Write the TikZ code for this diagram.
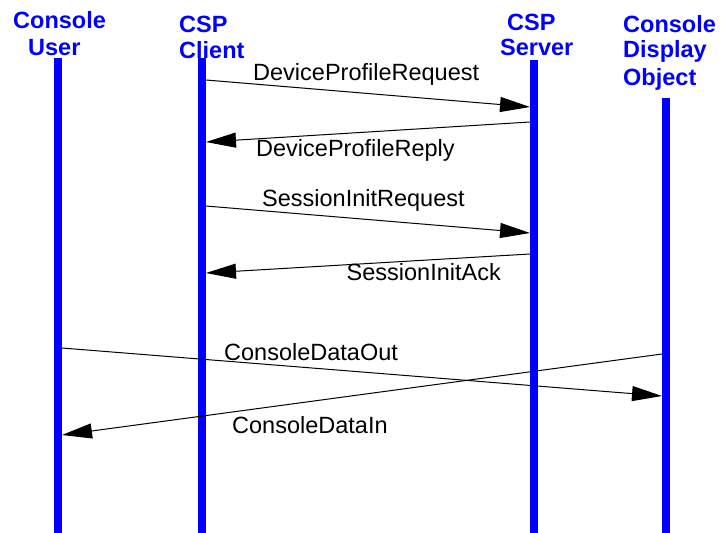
\documentclass[tikz,border=0pt]{standalone}
\usepackage{fontspec}
\setmainfont{Liberation Sans}
\usetikzlibrary{arrows.meta}
\definecolor{lifeblue}{RGB}{0,0,255}
\begin{document}
\begin{tikzpicture}[x=1pt,y=-1pt,
  life/.style={fill=lifeblue, draw=none, inner sep=0pt, minimum width=8pt, anchor=north},
  hdr/.style={anchor=base west, inner sep=0pt, text=lifeblue, font=\fontsize{23.5}{27}\selectfont\bfseries},
  msg/.style={anchor=base west, inner sep=0pt, font=\fontsize{23.5}{27}\selectfont},
  arr/.style={line width=1pt, -{Triangle[length=30pt,width=15pt]}}]
\useasboundingbox[fill=white] (0,0) rectangle (721,533);
% lifelines
\node[life, minimum height=475pt] (user) at (58,58) {};
\node[life, minimum height=475pt] (client) at (202,58) {};
\node[life, minimum height=473pt] (server) at (534,60) {};
\node[life, minimum height=435pt] (display) at (666,98) {};
% headings
\node[hdr] (h1a) at (13,28) {Console};
\node[hdr] (h1b) at (28,55) {User};
\node[hdr] (h2a) at (179,32) {CSP};
\node[hdr] (h2b) at (179,58) {Client};
\node[hdr] (h3a) at (507,30) {CSP};
\node[hdr] (h3b) at (500,55) {Server};
\node[hdr] (h4a) at (623,32) {Console};
\node[hdr] (h4b) at (623,57.5) {Display};
\node[hdr] (h4c) at (623,85) {Object};
% message end points
\coordinate (c1) at (206,80);   \coordinate (s1) at (530,107);
\coordinate (s2) at (530,122);  \coordinate (c2) at (206,142);
\coordinate (c3) at (206,206);  \coordinate (s3) at (530,233);
\coordinate (s4) at (530,254);  \coordinate (c4) at (206,273);
\coordinate (u5) at (62,348);   \coordinate (d5) at (662,396);
\coordinate (d6) at (662,354);  \coordinate (u6) at (62,435);
% messages
\draw[arr] (c1) -- (s1);
\draw[arr] (s2) -- (c2);
\draw[arr] (c3) -- (s3);
\draw[arr] (s4) -- (c4);
\draw[arr] (u5) -- (d5);
\draw[arr] (d6) -- (u6);
% labels
\node[msg] (l1) at (253,80) {DeviceProfileRequest};
\node[msg] (l2) at (256,156) {DeviceProfileReply};
\node[msg] (l3) at (262,206) {SessionInitRequest};
\node[msg] (l4) at (346.5,280) {SessionInitAck};
\node[msg] (l5) at (224,360) {ConsoleDataOut};
\node[msg] (l6) at (232,433) {ConsoleDataIn};
\end{tikzpicture}
\end{document}
